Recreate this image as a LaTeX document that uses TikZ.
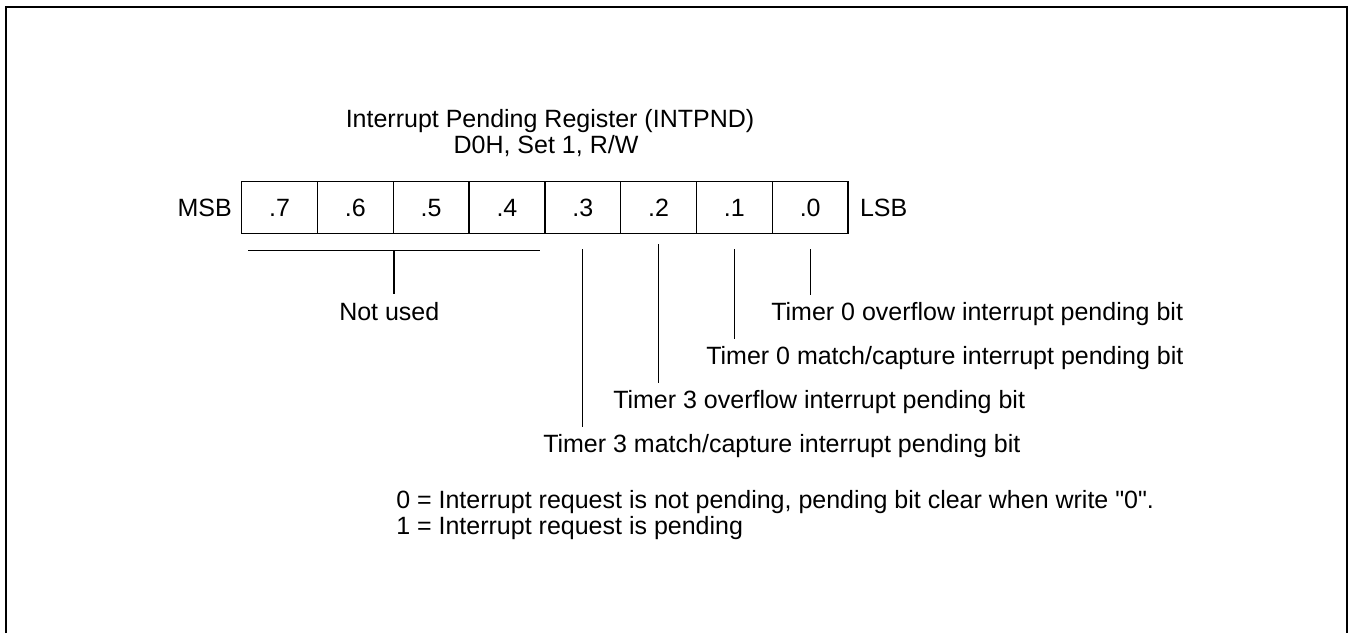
\documentclass[tikz,border=0pt]{standalone}
\usepackage{fontspec}
\setmainfont{Liberation Sans}[Ligatures=TeXOff]
\usetikzlibrary{calc}
\begin{document}
\begin{tikzpicture}[x=0.75pt,y=-0.75pt,
  font=\fontsize{18.75pt}{22pt}\selectfont,
  cell/.style={draw, line width=1pt, minimum width=56.85pt, minimum height=39pt, inner sep=0pt, anchor=north west},
  lbl/.style={inner sep=0pt, anchor=base west},
  lead/.style={line width=1pt}]
\useasboundingbox (0,0) rectangle (1353,633);
\draw[line width=1.6pt] (6,633) -- (6,7) -- (1347,7) -- (1347,633);
% title
\node[inner sep=0pt, anchor=base] (t1) at (550,127) {Interrupt Pending Register (INTPND)};
\node[inner sep=0pt, anchor=base] (t2) at (546,153) {D0H, Set 1, R/W};
% register cells
\foreach \b [count=\k from 0] in {7,...,0}
  \node[cell] (c\b) at ({241+75.8*\k},181) {.\b};
\node[inner sep=0pt, anchor=east] (msb) at ($(c7.west)+(-9,0)$) {MSB};
\node[inner sep=0pt, anchor=west] (lsb) at ($(c0.east)+(11,0)$) {LSB};
% not used bracket
\node[lbl] (nu) at (339,320) {Not used};
\coordinate (nl) at ($(c7.south west)+(7,16)$);
\coordinate (nr) at ($(c4.south east)+(-6,16)$);
\coordinate (nm) at ($(c6.south east)+(0,16)$);
\draw[lead] (nl) -- (nr);
\draw[lead] (nm) -- ($(nm |- nu.north)+(0,-8)$);
% bit labels
\node[lbl] (l0) at (771,320) {Timer 0 overflow interrupt pending bit};
\node[lbl] (l1) at (706,364) {Timer 0 match/capture interrupt pending bit};
\node[lbl] (l2) at (613,408) {Timer 3 overflow interrupt pending bit};
\node[lbl] (l3) at (543,452) {Timer 3 match/capture interrupt pending bit};
\draw[lead] ($(c0.south)+(0,15)$) -- ($(c0.south |- l0.north)+(0,-7)$);
\draw[lead] ($(c1.south)+(0,15)$) -- ($(c1.south |- l1.north)+(0,-7)$);
\draw[lead] ($(c2.south)+(0,10)$) -- ($(c2.south |- l2.north)+(0,-7)$);
\draw[lead] ($(c3.south)+(0,15)$) -- ($(c3.south |- l3.north)+(0,-7)$);
% notes
\node[lbl] (n1) at (396,508) {0 = Interrupt request is not pending, pending bit clear when write "0".};
\node[lbl] (n2) at (396,534) {1 = Interrupt request is pending};
\end{tikzpicture}
\end{document}
